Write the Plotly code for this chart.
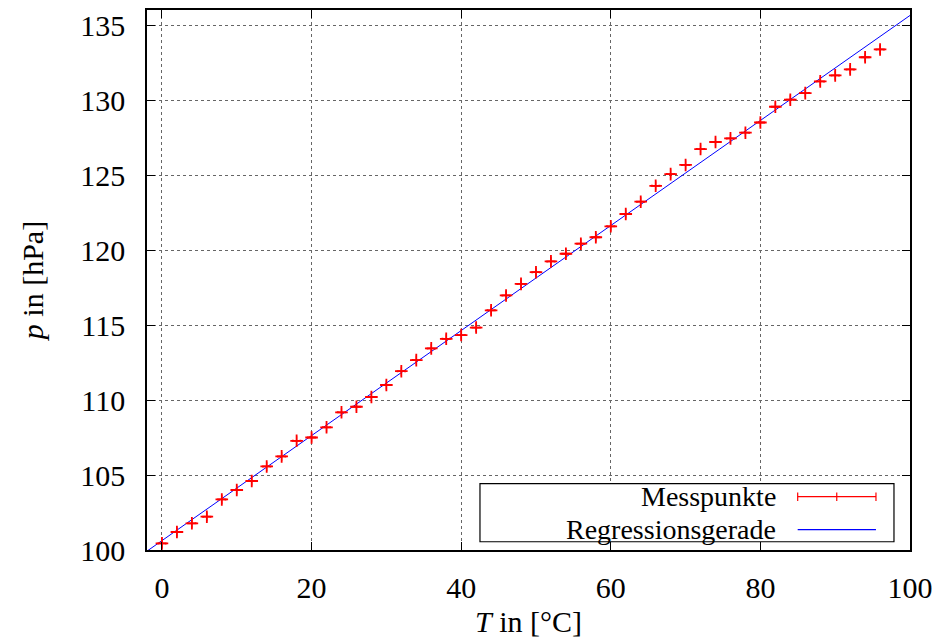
import numpy as np
import plotly.graph_objects as go

# measurement points: temperature in degC, pressure in hPa
T = [0, 2, 4, 6, 8, 10, 12, 14, 16, 18, 20, 22, 24, 26, 28, 30, 32, 34, 36, 38,
     40, 42, 44, 46, 48, 50, 52, 54, 56, 58, 60, 62, 64, 66, 68, 70, 72, 74, 76, 78,
     80, 82, 84, 86, 88, 90, 92, 94, 96]
p = [100.44, 101.2, 101.78, 102.22, 103.37, 104.0, 104.6, 105.57, 106.24, 107.28,
     107.5, 108.18, 109.18, 109.55, 110.2, 111.0, 111.92, 112.66, 113.44, 114.08,
     114.33, 114.83, 115.98, 116.97, 117.74, 118.52, 119.24, 119.75, 120.42, 120.85,
     121.58, 122.4, 123.22, 124.28, 125.06, 125.67, 126.73, 127.2, 127.44, 127.82,
     128.5, 129.55, 130.02, 130.46, 131.24, 131.64, 132.04, 132.85, 133.37]
T_err = [0.5] * len(T)
p_err = [0.3] * len(T)

x_range = [-2, 100]
y_range = [100, 136]

# linear regression through the measured points
slope, intercept = np.polyfit(T, p, 1)
fit_x = np.array(x_range, dtype=float)
fit_y = slope * fit_x + intercept

FONT = "Liberation Serif"
SIZE = 30

fig = go.Figure()
fig.add_trace(go.Scatter(
    x=fit_x, y=fit_y, mode="lines",
    line=dict(color="#0000ff", width=1), showlegend=False))
fig.add_trace(go.Scatter(
    x=T, y=p, mode="markers",
    marker=dict(symbol="cross-thin", size=9, line=dict(color="#ff0000", width=1.8)),
    error_x=dict(type="data", array=T_err, color="#ff0000", thickness=1.8, width=1),
    error_y=dict(type="data", array=p_err, color="#ff0000", thickness=1.2, width=0),
    showlegend=False))

axis_common = dict(
    showline=True, linecolor="black", linewidth=1.5, mirror="ticks",
    ticks="inside", ticklen=8, tickwidth=1, tickcolor="black",
    showgrid=True, gridcolor="#666666", griddash="dot", gridwidth=1,
    zeroline=False, tickfont=dict(family=FONT, size=SIZE, color="black"),
)

fig.update_xaxes(range=x_range, dtick=20, tick0=0, ticklabelstandoff=10,
                 title=dict(text="<i>T</i> in [°C]", standoff=8,
                            font=dict(family=FONT, size=SIZE, color="black")),
                 **axis_common)
fig.update_yaxes(range=y_range, dtick=5, tick0=100, ticklabelstandoff=14,
                 title=dict(text="<i>p</i> in [hPa]", standoff=28,
                            font=dict(family=FONT, size=SIZE, color="black")),
                 **axis_common)

# legend drawn by hand: text right aligned, sample on the right
box = dict(x0=0.4364, x1=0.979, y0=0.0153, y1=0.123)
rows = [("Messpunkte", 0.0987), ("Regressionsgerade", 0.0378)]
sx0, sx1, smid = 0.8528, 0.9554, 0.904

shapes = [dict(type="rect", xref="paper", yref="paper", layer="above",
               line=dict(color="black", width=1.2), fillcolor="white", **box)]
shapes.append(dict(type="line", xref="paper", yref="paper", x0=sx0, x1=sx1,
                   y0=rows[0][1], y1=rows[0][1], line=dict(color="#ff0000", width=1.2)))
for cx in (sx0, smid, sx1):
    shapes.append(dict(type="line", xref="paper", yref="paper", x0=cx, x1=cx,
                       y0=rows[0][1] - 0.008, y1=rows[0][1] + 0.008,
                       line=dict(color="#ff0000", width=1.2)))
shapes.append(dict(type="line", xref="paper", yref="paper", x0=sx0, x1=sx1,
                   y0=rows[1][1], y1=rows[1][1], line=dict(color="#0000ff", width=1.2)))

annotations = []
for label, yy in rows:
    annotations.append(dict(text=label, xref="paper", yref="paper", x=0.827, y=yy,
                            xanchor="right", yanchor="middle", showarrow=False,
                            font=dict(family=FONT, size=28, color="black")))

# the page body adds an 8px offset, so the figure is 8px smaller on each side
fig.update_layout(
    width=933, height=634,
    margin=dict(l=139, r=31, t=0, b=92),
    paper_bgcolor="white", plot_bgcolor="white",
    shapes=shapes, annotations=annotations,
)

fig.write_html("out.html")
